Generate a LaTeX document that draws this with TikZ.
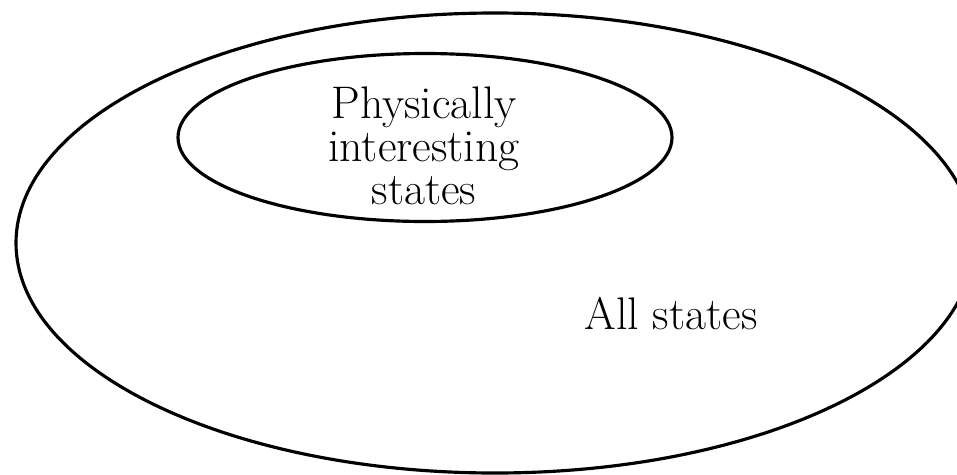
\documentclass[tikz,border=0pt]{standalone}
\usepackage{tikz}

\tikzset{
  setline/.style={draw=black, line width=1.8pt},
  setlabel/.style={align=center, inner sep=0pt, font=\fontsize{26}{24.5}\selectfont}
}

\begin{document}
\begin{tikzpicture}[x=0.02cm, y=-0.02cm]
  \useasboundingbox (0,0) rectangle (957,474);

  %% All states
  \draw[setline] (495,243) ellipse [x radius=479, y radius=230];
  \node[setlabel] (allstates) at (671,314) {All states};

  %% Physically interesting states
  \draw[setline] (425,137.5) ellipse [x radius=247, y radius=84];
  \node[setlabel] (physstates) at (424,146) {Physically\\interesting\\states};
\end{tikzpicture}
\end{document}
